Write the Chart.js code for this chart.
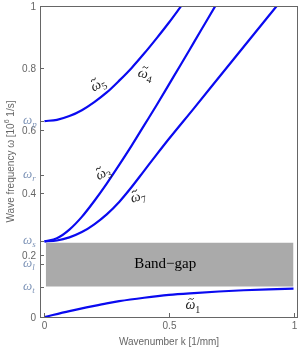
<!DOCTYPE html>
<html>
<head>
<meta charset="utf-8">
<script src="https://cdn.jsdelivr.net/npm/chart.js@4.4.1/dist/chart.umd.min.js"></script>
<style>
  html, body { margin: 0; padding: 0; background: #fff; }
  #wrap { width: 300px; height: 353px; }
</style>
</head>
<body>
<div id="wrap"><canvas id="grafico01"></canvas></div>
<script>
// datos
var k_w1 = [0, 0.1, 0.2, 0.25, 0.3, 0.4, 0.5, 0.6, 0.7, 0.8, 0.9, 1.0];
var w1 = [0, 0.019, 0.036, 0.044, 0.051, 0.062, 0.071, 0.077, 0.082, 0.086, 0.089, 0.091];

var k_w3 = [0, 0.05, 0.1, 0.15, 0.2, 0.25, 0.3, 0.35, 0.4, 0.45, 0.5, 0.55, 0.6, 0.65, 0.7];
var w3 = [0.243, 0.253, 0.281, 0.322, 0.373, 0.429, 0.489, 0.551, 0.616, 0.681, 0.748, 0.815, 0.883, 0.951, 1.019];

var k_w5 = [0, 0.05, 0.1, 0.15, 0.2, 0.25, 0.3, 0.35, 0.4, 0.45, 0.5, 0.55, 0.6];
var w5 = [0.630, 0.634, 0.646, 0.665, 0.691, 0.722, 0.760, 0.801, 0.847, 0.896, 0.947, 1.001, 1.055];

var k_w7 = [0, 0.05, 0.1, 0.15, 0.2, 0.25, 0.3, 0.35, 0.4, 0.45, 0.5, 0.6, 0.7, 0.8, 0.9, 0.95];
var w7 = [0.243, 0.246, 0.256, 0.273, 0.298, 0.330, 0.370, 0.418, 0.470, 0.522, 0.573, 0.671, 0.770, 0.869, 0.968, 1.017];

// banda prohibida
var gap_k = [0.005, 1.0];
var gap_bajo = [0.098, 0.098];
var gap_alto = [0.239, 0.239];

// marcas del eje y
var ticks_y = [0, 0.2, 0.4, 0.6, 0.8, 1];
var ticks_w = [0.630, 0.455, 0.243, 0.170, 0.096];
var ticks_w_sub = ['p', 'r', 's', 'l', 't'];
var ticks_x = [0, 0.5, 1];
var ticks_x_txt = ['0', '0.5', '1'];

function pares(xs, ys) {
    var out = [];
    for (var i = 0; i < xs.length; i++) out.push({ x: xs[i], y: ys[i] });
    return out;
}

function curva(xs, ys) {
    return {
        data: pares(xs, ys),
        borderColor: '#0a0af0',
        borderWidth: 2.2,
        pointRadius: 0,
        fill: false,
        cubicInterpolationMode: 'monotone',
        clip: 0
    };
}

var GRIS = '#666666';
var AZULGRIS = '#7f95b8';

// dibuja omega con subindice (y tilde opcional)
function omega(ctx, x, y, sub, tam, color, tilde) {
    ctx.fillStyle = color;
    ctx.strokeStyle = color;
    ctx.textAlign = 'left';
    ctx.textBaseline = 'alphabetic';
    ctx.font = 'italic ' + tam + 'px "Liberation Serif"';
    var w = ctx.measureText('\u03C9').width;
    ctx.fillText('\u03C9', x, y);
    if (tilde) {
        var tx = x + w * 0.3, ty = y - tam * 0.75, tw = w * 0.55;
        ctx.lineWidth = 0.9;
        ctx.beginPath();
        ctx.moveTo(tx, ty + 1);
        ctx.quadraticCurveTo(tx + tw * 0.25, ty - 1.5, tx + tw * 0.5, ty);
        ctx.quadraticCurveTo(tx + tw * 0.75, ty + 1.5, tx + tw, ty - 1);
        ctx.stroke();
    }
    ctx.font = (tilde ? '' : 'italic ') + Math.round(tam * 0.72) + 'px "Liberation Serif"';
    ctx.fillText(sub, x + w, y + tam * 0.25);
    return w + ctx.measureText(sub).width;
}

var marco = {
    id: 'marco',
    afterDatasetsDraw: function (chart) {
        var ctx = chart.ctx;
        var a = chart.chartArea;
        var sx = chart.scales.x, sy = chart.scales.y;
        ctx.save();

        // texto banda
        ctx.fillStyle = '#000';
        ctx.font = '15px "Liberation Serif"';
        ctx.textAlign = 'center';
        ctx.textBaseline = 'middle';
        ctx.fillText('Band\u2212gap', sx.getPixelForValue(0.485), sy.getPixelForValue(0.17));

        // marco
        ctx.strokeStyle = GRIS;
        ctx.lineWidth = 1;
        ctx.strokeRect(Math.round(a.left) + 0.5, Math.round(a.top) + 0.5,
            Math.round(a.right - a.left) - 1, Math.round(a.bottom - a.top));

        // marcas y
        ctx.font = '10px "Liberation Sans"';
        ctx.textAlign = 'right';
        ctx.textBaseline = 'middle';
        ticks_y.forEach(function (v) {
            var py = Math.round(sy.getPixelForValue(v)) + 0.5;
            ctx.strokeStyle = GRIS;
            ctx.lineWidth = 1;
            ctx.beginPath();
            ctx.moveTo(a.left, py); ctx.lineTo(a.left + 4, py);
            ctx.stroke();
            ctx.fillStyle = GRIS;
            ctx.font = '10px "Liberation Sans"';
            ctx.textAlign = 'right';
            ctx.textBaseline = 'middle';
            ctx.fillText(String(v), 36, py + 1);
        });
        ticks_w.forEach(function (v, i) {
            var py = Math.round(sy.getPixelForValue(v)) + 0.5;
            ctx.strokeStyle = GRIS;
            ctx.lineWidth = 1;
            ctx.beginPath();
            ctx.moveTo(a.left, py); ctx.lineTo(a.left + 4, py);
            ctx.stroke();
            omega(ctx, 23, py + 2, ticks_w_sub[i], 13, AZULGRIS, false);
        });

        // marcas x
        ctx.strokeStyle = GRIS;
        ctx.fillStyle = GRIS;
        ctx.lineWidth = 1;
        ctx.font = '10px "Liberation Sans"';
        ctx.textAlign = 'center';
        ctx.textBaseline = 'top';
        ticks_x.forEach(function (v, i) {
            var px = Math.round(sx.getPixelForValue(v)) + 0.5;
            ctx.beginPath();
            ctx.moveTo(px, a.bottom); ctx.lineTo(px, a.bottom - 4);
            ctx.stroke();
            ctx.fillText(ticks_x_txt[i], px, a.bottom + 4);
        });

        // titulos de ejes
        ctx.fillText('Wavenumber k [1/mm]', (a.left + a.right) / 2, 337);

        ctx.save();
        ctx.translate(14, (a.top + a.bottom) / 2);
        ctx.rotate(-Math.PI / 2);
        ctx.textAlign = 'left';
        ctx.textBaseline = 'alphabetic';
        var p1 = 'Wave frequency \u03C9 [10', p2 = '6', p3 = ' 1/s]';
        ctx.font = '10px "Liberation Sans"';
        var w1t = ctx.measureText(p1).width;
        var w3t = ctx.measureText(p3).width;
        ctx.font = '7px "Liberation Sans"';
        var w2t = ctx.measureText(p2).width;
        var x0 = -(w1t + w2t + w3t) / 2;
        ctx.font = '10px "Liberation Sans"';
        ctx.fillText(p1, x0, 0);
        ctx.fillText(p3, x0 + w1t + w2t, 0);
        ctx.font = '7px "Liberation Sans"';
        ctx.fillText(p2, x0 + w1t, -5);
        ctx.restore();

        // etiquetas de curvas
        var etq = [
            { k: 0.21, w: 0.745, s: '5', r: -0.5 },
            { k: 0.40, w: 0.782, s: '4', r: 0.25 },
            { k: 0.23, w: 0.46, s: '3', r: -0.5 },
            { k: 0.37, w: 0.385, s: '7', r: -0.3 },
            { k: 0.59, w: 0.037, s: '1', r: 0 }
        ];
        etq.forEach(function (e) {
            ctx.save();
            ctx.translate(sx.getPixelForValue(e.k), sy.getPixelForValue(e.w));
            ctx.rotate(e.r);
            omega(ctx, -6, 4, e.s, 14, '#222', true);
            ctx.restore();
        });

        ctx.restore();
    }
};

var ctx = document.getElementById('grafico01');

var grafico = new Chart(ctx, {
    type: 'line',
    data: {
        datasets: [
            {
                data: pares(gap_k, gap_bajo),
                borderWidth: 0,
                pointRadius: 0,
                fill: false
            },
            {
                data: pares(gap_k, gap_alto),
                borderWidth: 0,
                pointRadius: 0,
                backgroundColor: '#aaaaaa',
                fill: '-1'
            },
            curva(k_w1, w1),
            curva(k_w3, w3),
            curva(k_w5, w5),
            curva(k_w7, w7)
        ]
    },
    plugins: [marco],
    options: {
        responsive: true,
        maintainAspectRatio: false,
        animation: false,
        layout: {
            padding: { left: 40, right: 2, top: 6, bottom: 36 }
        },
        plugins: {
            legend: { display: false },
            tooltip: { enabled: false },
            title: { display: false }
        },
        scales: {
            x: { type: 'linear', min: -0.018, max: 1.018, display: false },
            y: { type: 'linear', min: 0, max: 1, display: false }
        }
    }
});
</script>
</body>
</html>
